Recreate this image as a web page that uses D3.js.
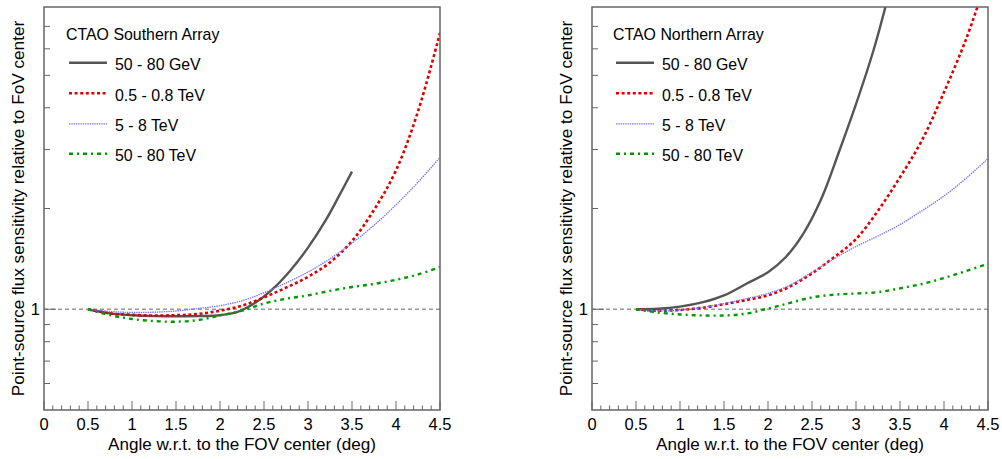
<!DOCTYPE html>
<html>
<head>
<meta charset="utf-8">
<script src="https://cdn.jsdelivr.net/npm/d3@7"></script>
<style>
html,body{margin:0;padding:0;background:#fff;}
svg{display:block;font-family:"Liberation Sans",Arial,Helvetica,sans-serif;}
</style>
</head>
<body>
<svg id="chart" width="1002" height="459"></svg>
<script>
// ---------- data ----------
const seriesNames = ["50 - 80 GeV", "0.5 - 0.8 TeV", "5 - 8 TeV", "50 - 80 TeV"];
const panelTitles = ["CTAO Southern Array", "CTAO Northern Array"];
const xTickLabels = ["0","0.5","1","1.5","2","2.5","3","3.5","4","4.5"];
const yTickLabels = ["1"];
const yMinorTicks = [0.6, 0.7, 0.8, 0.9, 2, 3, 4, 5, 6, 7];

// Southern array
const southX_gev = [0.5,0.75,1.0,1.25,1.5,1.75,2.0,2.2,2.4,2.6,2.8,3.0,3.2,3.35,3.5];
const south_gev  = [1.0,0.972,0.96,0.954,0.953,0.954,0.96,0.982,1.045,1.15,1.306,1.528,1.843,2.173,2.578];
const southX = [0.5,0.75,1.0,1.25,1.5,1.75,2.0,2.25,2.5,2.75,3.0,3.25,3.5,3.75,4.0,4.25,4.5];
const south_05tev = [1.0,0.972,0.962,0.958,0.96,0.968,0.99,1.025,1.085,1.16,1.25,1.38,1.6,1.98,2.6,3.9,6.7];
const south_5tev  = [1.0,0.985,0.978,0.98,0.988,1.005,1.025,1.06,1.12,1.198,1.292,1.415,1.575,1.782,2.05,2.397,2.84];
const south_50tev = [1.0,0.96,0.935,0.922,0.918,0.928,0.958,0.99,1.04,1.075,1.1,1.135,1.165,1.19,1.225,1.27,1.337];

// Northern array
const northX_gev = [0.5,0.75,1.0,1.25,1.5,1.75,2.0,2.2,2.4,2.6,2.8,3.0,3.2,3.35];
const north_gev  = [1.0,1.003,1.018,1.048,1.1,1.19,1.29,1.43,1.68,2.12,2.92,4.1,5.95,8.3];
const northX_05tev = [0.5,0.75,1.0,1.25,1.5,1.75,2.0,2.25,2.5,2.75,3.0,3.25,3.5,3.75,4.0,4.25,4.4];
const north_05tev  = [1.0,0.99,0.995,1.01,1.035,1.065,1.1,1.17,1.28,1.43,1.62,1.97,2.48,3.2,4.45,6.4,8.3];
const northX = [0.5,0.75,1.0,1.25,1.5,1.75,2.0,2.25,2.5,2.75,3.0,3.25,3.5,3.75,4.0,4.25,4.5];
const north_5tev  = [1.0,0.99,0.993,1.012,1.04,1.075,1.115,1.18,1.29,1.415,1.54,1.655,1.79,1.97,2.18,2.46,2.82];
const north_50tev = [1.0,0.978,0.965,0.958,0.958,0.97,1.005,1.045,1.085,1.105,1.115,1.125,1.155,1.19,1.24,1.3,1.368];

const panels = [
  { title: panelTitles[0], x0: 44, titleX: 24, legendX: 66,
    series: [[southX_gev, south_gev],[southX, south_05tev],[southX, south_5tev],[southX, south_50tev]] },
  { title: panelTitles[1], x0: 592, titleX: 572, legendX: 613,
    series: [[northX_gev, north_gev],[northX_05tev, north_05tev],[northX, north_5tev],[northX, north_50tev]] }
];

// ---------- styles ----------
const styles = [
  { color: "#555555", width: 2.4, dash: null },
  { color: "#dd0000", width: 2.6, dash: "3,2.6" },
  { color: "#7272ff", width: 1.3, dash: "1.4,0.9" },
  { color: "#009a00", width: 2.4, dash: "4,4,2,4" }
];

const svg = d3.select("#chart");
const W = 396, plotTop = 7, plotBottom = 410;
const frameColor = "#666666";

panels.forEach((p, pi) => {
  const x = d3.scaleLinear().domain([0, 4.5]).range([p.x0, p.x0 + W]);
  const y = d3.scaleLog().domain([0.5, 8]).range([plotBottom, plotTop]);
  const g = svg.append("g");

  const clipId = "clip" + pi;
  svg.append("clipPath").attr("id", clipId).append("rect")
    .attr("x", p.x0).attr("y", plotTop).attr("width", W).attr("height", plotBottom - plotTop);

  // reference line at 1
  g.append("line")
    .attr("x1", x(0)).attr("x2", x(4.5)).attr("y1", y(1)).attr("y2", y(1))
    .attr("stroke", "#9a9a9a").attr("stroke-width", 1.5).attr("stroke-dasharray", "4,3");

  // x ticks (inside, pointing up)
  const minor = d3.range(0, 46).map(i => i / 10);
  minor.forEach(v => {
    const isMajor = Math.abs(v * 2 - Math.round(v * 2)) < 1e-6;
    g.append("line")
      .attr("x1", x(v)).attr("x2", x(v))
      .attr("y1", plotBottom).attr("y2", plotBottom - (isMajor ? 9 : 4.5))
      .attr("stroke", frameColor).attr("stroke-width", 1);
  });
  xTickLabels.forEach(t => {
    g.append("text").attr("x", x(+t)).attr("y", 430)
      .attr("text-anchor", "middle").attr("font-size", 16.5).attr("fill", "#000").text(t);
  });

  // y ticks
  yMinorTicks.forEach(v => {
    g.append("line").attr("x1", p.x0).attr("x2", p.x0 + 6)
      .attr("y1", y(v)).attr("y2", y(v)).attr("stroke", frameColor).attr("stroke-width", 1);
  });
  yTickLabels.forEach(t => {
    g.append("line").attr("x1", p.x0).attr("x2", p.x0 + 12)
      .attr("y1", y(+t)).attr("y2", y(+t)).attr("stroke", frameColor).attr("stroke-width", 1);
    g.append("text").attr("x", p.x0 - 4).attr("y", y(+t) + 6)
      .attr("text-anchor", "end").attr("font-size", 16.5).text(t);
  });

  // curves
  const line = d3.line().x(d => x(d[0])).y(d => y(d[1])).curve(d3.curveCatmullRom.alpha(0.5));
  p.series.forEach((s, si) => {
    const pts = s[0].map((xv, i) => [xv, s[1][i]]);
    const st = styles[si];
    g.append("path").datum(pts)
      .attr("clip-path", "url(#" + clipId + ")")
      .attr("d", line).attr("fill", "none")
      .attr("stroke", st.color).attr("stroke-width", st.width)
      .attr("stroke-dasharray", st.dash);
  });

  // frame
  g.append("rect").attr("x", p.x0).attr("y", plotTop).attr("width", W).attr("height", plotBottom - plotTop)
    .attr("fill", "none").attr("stroke", frameColor).attr("stroke-width", 1.5);

  // axis titles
  g.append("text").attr("x", x(2.25)).attr("y", 450)
    .attr("text-anchor", "middle").attr("font-size", 17.1)
    .text("Angle w.r.t. to the FOV center (deg)");
  g.append("text")
    .attr("transform", `translate(${p.titleX},${(plotTop + plotBottom) / 2}) rotate(-90)`)
    .attr("text-anchor", "middle").attr("font-size", 17.2)
    .text("Point-source flux sensitivity relative to FoV center");

  // legend
  g.append("text").attr("x", p.legendX).attr("y", 39.5).attr("font-size", 15.9).text(p.title);
  const rowY = [62.7, 93.3, 123.8, 153.8];
  seriesNames.forEach((n, si) => {
    const st = styles[si];
    g.append("line").attr("x1", p.legendX + 3).attr("x2", p.legendX + 41)
      .attr("y1", rowY[si]).attr("y2", rowY[si])
      .attr("stroke", st.color).attr("stroke-width", st.width).attr("stroke-dasharray", st.dash);
    g.append("text").attr("x", p.legendX + 49).attr("y", rowY[si] + 7.3)
      .attr("font-size", 15.9).text(n);
  });
});
</script>
</body>
</html>
